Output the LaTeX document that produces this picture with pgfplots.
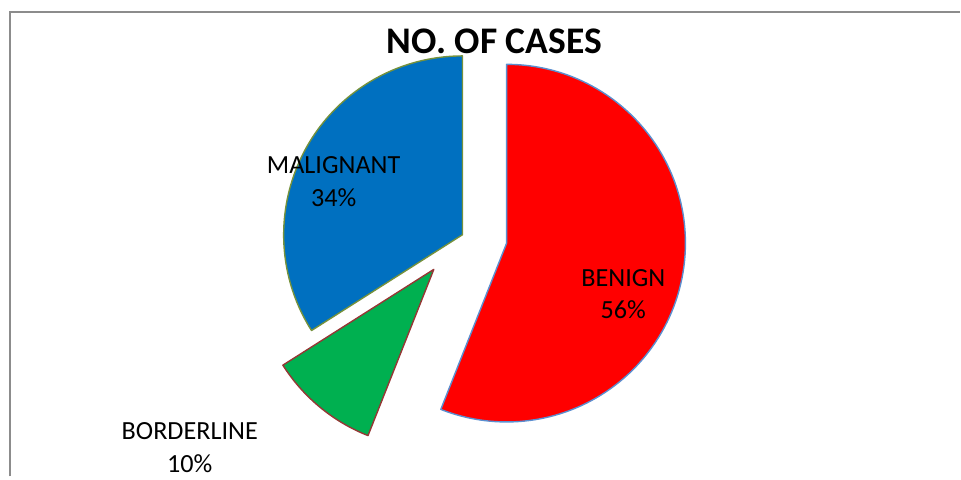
\documentclass[border=0pt]{standalone}
\usepackage{pgfplots}
\pgfplotsset{compat=1.18}
\usepackage{pgfplotstable}
\usepackage{fontspec}
\setmainfont{Carlito}
\definecolor{fBenign}{HTML}{FF0000}
\definecolor{dBenign}{HTML}{5B8FD0}
\definecolor{fBorder}{HTML}{00B050}
\definecolor{dBorder}{HTML}{953735}
\definecolor{fMalig}{HTML}{0070C0}
\definecolor{dMalig}{HTML}{76923C}
\definecolor{frame}{HTML}{8C8C8C}

% slices in Excel order (clockwise from 12 o'clock); explode in px
\pgfplotstableread[col sep=comma]{
label,value,explode
BENIGN,56,45
BORDERLINE,10,45
MALIGNANT,34,0
}\piedata

\pgfplotstablegetelem{0}{value}\of\piedata \let\vA\pgfplotsretval
\pgfplotstablegetelem{1}{value}\of\piedata \let\vB\pgfplotsretval
\pgfplotstablegetelem{2}{value}\of\piedata \let\vC\pgfplotsretval
\pgfplotstablegetelem{0}{explode}\of\piedata \let\eA\pgfplotsretval
\pgfplotstablegetelem{1}{explode}\of\piedata \let\eB\pgfplotsretval
\pgfplotstablegetelem{2}{explode}\of\piedata \let\eC\pgfplotsretval

\def\cx{463}\def\cy{242}\def\R{89.5pt}
\pgfmathsetmacro\sA{90}
\pgfmathsetmacro\tA{\sA-3.6*\vA}
\pgfmathsetmacro\sB{\tA}
\pgfmathsetmacro\tB{\sB-3.6*\vB}
\pgfmathsetmacro\sC{\tB}
\pgfmathsetmacro\tC{\sC-3.6*\vC}
\pgfmathsetmacro\xA{\cx+\eA*cos((\sA+\tA)/2)}
\pgfmathsetmacro\yA{\cy+\eA*sin((\sA+\tA)/2)}
\pgfmathsetmacro\xB{\cx+\eB*cos((\sB+\tB)/2)}
\pgfmathsetmacro\yB{\cy+\eB*sin((\sB+\tB)/2)}
\pgfmathsetmacro\xC{\cx+\eC*cos((\sC+\tC)/2)}
\pgfmathsetmacro\yC{\cy+\eC*sin((\sC+\tC)/2)}

\begin{document}
\begin{tikzpicture}
\begin{axis}[x=0.5pt,y=0.5pt,xmin=0,xmax=961,ymin=0,ymax=477,
  hide axis,clip=false,scale only axis]
\path (axis cs:0,0) rectangle (axis cs:961,477);
\draw[frame,line width=1.1pt] (axis cs:10,0) -- (axis cs:10,465) -- (axis cs:961,465);
\filldraw[fill=fBenign,draw=dBenign,line width=0.7pt,line join=round]
  (axis cs:\xA,\yA) -- ++(\sA:\R) arc[start angle=\sA,end angle=\tA,radius=\R] -- cycle;
\filldraw[fill=fBorder,draw=dBorder,line width=0.7pt,line join=round]
  (axis cs:\xB,\yB) -- ++(\sB:\R) arc[start angle=\sB,end angle=\tB,radius=\R] -- cycle;
\filldraw[fill=fMalig,draw=dMalig,line width=0.7pt,line join=round]
  (axis cs:\xC,\yC) -- ++(\sC:\R) arc[start angle=\sC,end angle=\tC,radius=\R] -- cycle;
\node[font=\fontsize{18.8}{22}\selectfont\bfseries] at (axis cs:495,436) {NO. OF CASES};
\node[font=\fontsize{13.1}{15}\selectfont] at (axis cs:334,312) {MALIGNANT};
\node[font=\fontsize{13.1}{15}\selectfont] at (axis cs:334,279) {34\%};
\node[font=\fontsize{13.1}{15}\selectfont] at (axis cs:624,199) {BENIGN};
\node[font=\fontsize{13.1}{15}\selectfont] at (axis cs:624,167) {56\%};
\node[font=\fontsize{13.1}{15}\selectfont] at (axis cs:190,45) {BORDERLINE};
\node[font=\fontsize{13.1}{15}\selectfont] at (axis cs:190,13) {10\%};
\end{axis}
\end{tikzpicture}
\end{document}
